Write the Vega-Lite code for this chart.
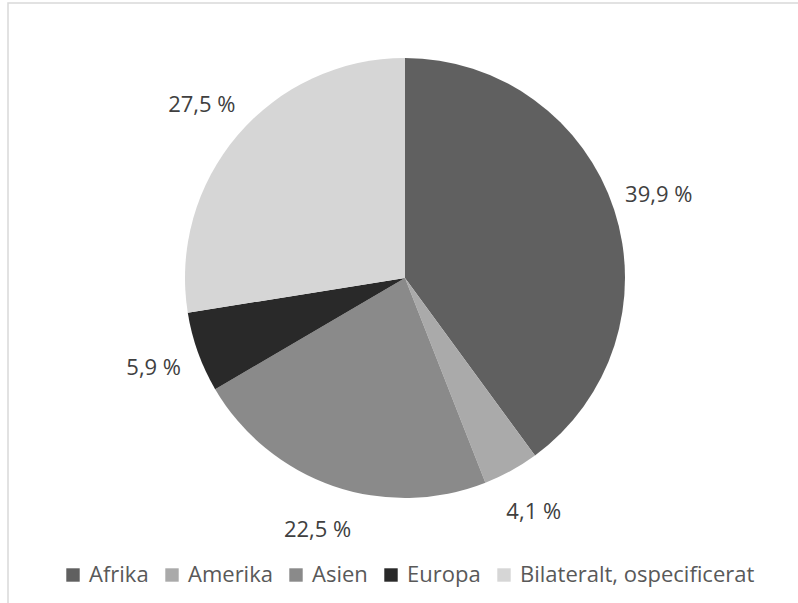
{
  "$schema": "https://vega.github.io/schema/vega-lite/v6.json",
  "width": 900,
  "height": 650,
  "autosize": "none",
  "padding": {"left": 8, "top": 3, "right": 0, "bottom": 0},
  "background": "white",
  "view": {"stroke": "#d9d9d9", "strokeWidth": 1.5, "fill": "white"},
  "config": {
    "font": "Open Sans"
  },
  "data": {
    "values": [
      {"region": "Afrika", "share": 39.9, "label": "39,9 %", "ord": 1},
      {"region": "Amerika", "share": 4.1, "label": "4,1 %", "ord": 2},
      {"region": "Asien", "share": 22.5, "label": "22,5 %", "ord": 3},
      {"region": "Europa", "share": 5.9, "label": "5,9 %", "ord": 4},
      {"region": "Bilateralt, ospecificerat", "share": 27.5, "label": "27,5 %", "ord": 5}
    ]
  },
  "encoding": {
    "theta": {"field": "share", "type": "quantitative", "stack": true},
    "order": {"field": "ord", "type": "quantitative"}
  },
  "layer": [
    {
      "mark": {"type": "arc", "outerRadius": 220, "xOffset": -53, "yOffset": -50},
      "encoding": {
        "color": {
          "field": "region",
          "type": "nominal",
          "scale": {
            "domain": ["Afrika", "Amerika", "Asien", "Europa", "Bilateralt, ospecificerat"],
            "range": ["#606060", "#aaaaaa", "#8a8a8a", "#292929", "#d6d6d6"]
          },
          "legend": {
            "title": null,
            "orient": "none",
            "direction": "horizontal",
            "legendX": 54,
            "legendY": 561,
            "symbolType": "square",
            "symbolSize": 180,
            "symbolStrokeWidth": 0,
            "symbolOpacity": 1,
            "labelFontSize": 22,
            "labelFont": "Open Sans",
            "labelColor": "#595959",
            "labelOffset": 5,
            "columnPadding": 12,
            "padding": 0,
            "labelLimit": 400
          }
        }
      }
    },
    {
      "mark": {"type": "text", "radius": 267, "xOffset": -53, "yOffset": -50, "fontSize": 22, "font": "Open Sans", "color": "#404040"},
      "encoding": {
        "text": {"field": "label", "type": "nominal"}
      }
    }
  ]
}
